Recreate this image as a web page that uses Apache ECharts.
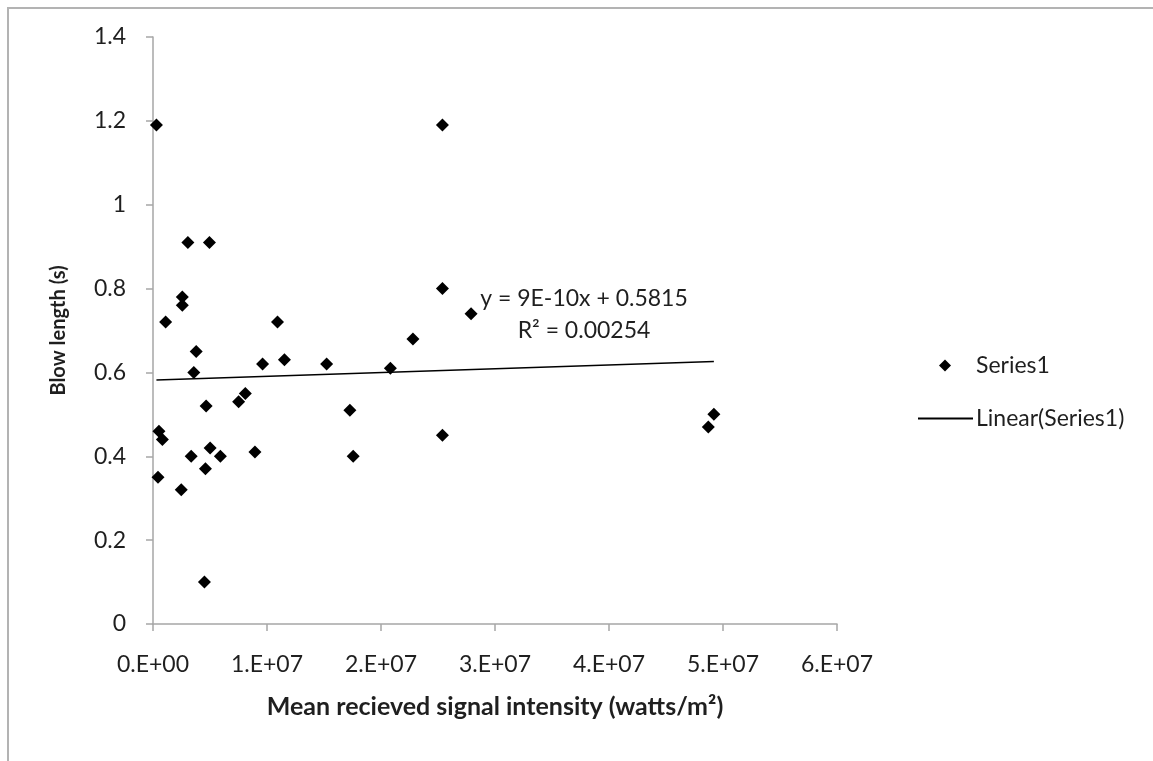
<!DOCTYPE html>
<html>
<head>
<meta charset="utf-8">
<script src="https://cdn.jsdelivr.net/npm/echarts@6/dist/echarts.min.js"></script>
<style>
html,body{margin:0;padding:0;background:#fff;}
#chart{width:1153px;height:761px;}
</style>
</head>
<body>
<div id="chart"></div>
<script>
// Mean received signal intensity (watts/m^2)
const intensity = [
  300000, 3060000, 4950000, 2570000, 2570000, 1110000, 10920000,
  3790000, 3580000, 9610000, 11530000, 15230000, 8100000, 7510000, 4660000,
  520000, 820000, 5010000, 3350000, 5910000, 8940000, 4600000, 440000, 2480000, 4510000,
  25390000, 25390000, 27900000, 22800000, 20820000, 17270000, 25390000, 17560000, 49200000, 48710000
];
// Blow length (s)
const blowLength = [
  1.19, 0.91, 0.91, 0.78, 0.76, 0.72, 0.72,
  0.65, 0.60, 0.62, 0.63, 0.62, 0.55, 0.53, 0.52,
  0.46, 0.44, 0.42, 0.40, 0.40, 0.41, 0.37, 0.35, 0.32, 0.10,
  1.19, 0.80, 0.74, 0.68, 0.61, 0.51, 0.45, 0.40, 0.50, 0.47
];
const trendSlope = 9e-10;
const trendIntercept = 0.5815;
const trendLabel = ['y = 9E-10x + 0.5815', 'R² = 0.00254'];
const seriesNames = ['Series1', 'Linear(Series1)'];
const xTitle = 'Mean recieved signal intensity (watts/m²)';
const yTitle = 'Blow length (s)';

const FONT = 'Lato, "Open Sans", sans-serif';
const TXT = '#1f1f1f';
const AX = '#a6a6a6';

const points = intensity.map((x, i) => [x, blowLength[i]]);
const xMin = Math.min(...intensity), xMax = Math.max(...intensity);
const trend = [[xMin, trendIntercept + trendSlope * xMin], [xMax, trendIntercept + trendSlope * xMax]];

function sci(v) {
  if (v === 0) return '0.E+00';
  const e = Math.floor(Math.log10(v) + 1e-9);
  const m = Math.round(v / Math.pow(10, e));
  return m + '.E+' + (e < 10 ? '0' + e : e);
}

const chart = echarts.init(document.getElementById('chart'), null, {renderer: 'canvas'});
chart.setOption({
  backgroundColor: '#fff',
  animation: false,
  grid: {left: 153, top: 37, width: 684, height: 587, containLabel: false},
  xAxis: {
    type: 'value', min: 0, max: 60000000, interval: 10000000,
    name: xTitle, nameLocation: 'middle', nameGap: 70,
    nameTextStyle: {fontFamily: FONT, fontSize: 25, fontWeight: 'bold', color: TXT},
    axisLine: {show: true, lineStyle: {color: AX, width: 1.5}},
    axisTick: {show: true, length: 7, lineStyle: {color: AX, width: 1.5}},
    axisLabel: {formatter: sci, margin: 29, fontFamily: FONT, fontSize: 23, color: TXT},
    splitLine: {show: false}
  },
  yAxis: {
    type: 'value', min: 0, max: 1.4, interval: 0.2,
    name: yTitle, nameLocation: 'middle', nameGap: 84, nameRotate: 90,
    nameTextStyle: {fontFamily: FONT, fontSize: 20, fontWeight: 'bold', color: TXT},
    axisLine: {show: true, lineStyle: {color: AX, width: 1.5}},
    axisTick: {show: true, length: 7, lineStyle: {color: AX, width: 1.5}},
    axisLabel: {margin: 27, fontFamily: FONT, fontSize: 23, color: TXT},
    splitLine: {show: false}
  },
  legend: [
    {
      orient: 'vertical', left: 934, top: 349, itemWidth: 12, itemHeight: 12,
      textStyle: {fontFamily: FONT, fontSize: 23, color: TXT, padding: [0, 0, 0, 20]},
      data: [{name: seriesNames[0], icon: 'diamond', itemStyle: {color: '#000', opacity: 1}}]
    },
    {
      orient: 'vertical', left: 913, top: 402, itemWidth: 55, itemHeight: 2,
      textStyle: {fontFamily: FONT, fontSize: 23, color: TXT, padding: [0, 0, 0, -2]},
      data: [{name: seriesNames[1], icon: 'rect', itemStyle: {color: '#000'}}]
    }
  ],
  series: [
    {
      name: seriesNames[0], type: 'scatter', data: points,
      symbol: 'diamond', symbolSize: 13,
      itemStyle: {color: '#000', opacity: 1}
    },
    {
      name: seriesNames[1], type: 'line', data: trend,
      symbol: 'none', lineStyle: {color: '#000', width: 1.5},
      itemStyle: {color: '#000'}
    }
  ],
  graphic: [
    {type: 'rect', shape: {x: 8, y: 8, width: 1300, height: 900}, style: {fill: null, stroke: '#b3b3b3', lineWidth: 2}, silent: true},
    {type: 'text', x: 584, y: 299, style: {text: trendLabel[0], font: '23px ' + FONT, fill: TXT, align: 'center', verticalAlign: 'middle'}},
    {type: 'text', x: 584, y: 331, style: {text: trendLabel[1], font: '23px ' + FONT, fill: TXT, align: 'center', verticalAlign: 'middle'}}
  ]
});
</script>
</body>
</html>
